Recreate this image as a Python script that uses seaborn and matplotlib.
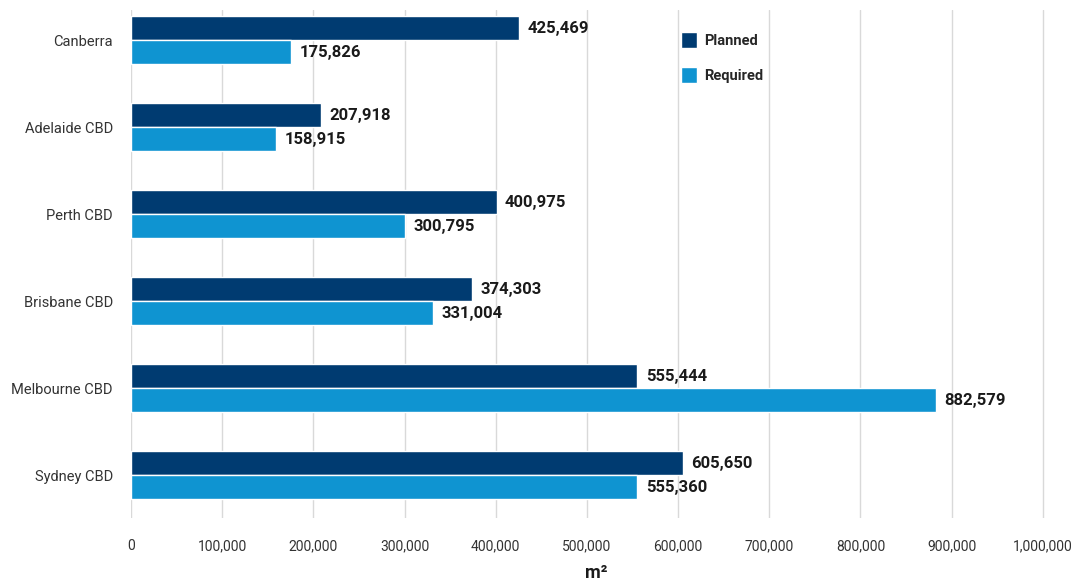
import matplotlib
matplotlib.use("Agg")
import matplotlib.pyplot as plt
import seaborn as sns
import pandas as pd
from matplotlib.patches import Patch
from matplotlib.ticker import FuncFormatter

cities = ["Canberra", "Adelaide CBD", "Perth CBD", "Brisbane CBD", "Melbourne CBD", "Sydney CBD"]
planned = [425469, 207918, 400975, 374303, 555444, 605650]
required = [175826, 158915, 300795, 331004, 882579, 555360]
series = ["Planned", "Required"]
colors = ["#003b71", "#0f94d1"]
xticks = [0, 100000, 200000, 300000, 400000, 500000, 600000, 700000, 800000, 900000, 1000000]

sns.set_theme(style="white")
plt.rcParams['font.family'] = ['Roboto', 'DejaVu Sans']

df = pd.DataFrame({
    "city": cities * 2,
    "value": planned + required,
    "series": [series[0]] * len(cities) + [series[1]] * len(cities),
})

fig = plt.figure(figsize=(10.74, 5.86), dpi=100)
ax = fig.add_axes([131/1074, 1 - 518/586, (1061-131)/1074, (518-10)/586])

sns.barplot(data=df, y="city", x="value", hue="series", order=cities,
            hue_order=series, palette=colors, orient="h", width=0.55,
            saturation=1, ax=ax, legend=False)

for cont in ax.containers:
    labels = [f"{int(v):,}" for v in cont.datavalues]
    ax.bar_label(cont, labels=labels, padding=6, fontsize=12, fontweight="bold", color="#1a1a1a")

ax.set_xlim(0, 1020000)
ax.set_ylim(5.49, -0.345)
ax.set_xticks(xticks)
ax.xaxis.set_major_formatter(FuncFormatter(lambda v, p: f"{int(v):,}"))
ax.grid(axis="x", color="#d9d9d9", linewidth=1)
ax.set_axisbelow(True)
for s in ax.spines.values():
    s.set_visible(False)
ax.tick_params(axis="x", length=0, pad=15, labelsize=10, labelcolor="#333333")
ax.tick_params(axis="y", length=0, pad=13, labelsize=10.5, labelcolor="#333333")
ax.set_ylabel("")
ax.set_xlabel("m²", fontsize=13, fontweight="bold", color="#1a1a1a", labelpad=8)

handles = [Patch(facecolor=c, label=s) for c, s in zip(colors, series)]
ax.legend(handles=handles, loc="upper left", bbox_to_anchor=(0.577, 0.982), frameon=False,
          prop={"weight": "bold", "size": 10.5}, handlelength=1.1, handleheight=1.3,
          labelspacing=1.3, handletextpad=0.5)

fig.savefig("out.png", dpi=100)
